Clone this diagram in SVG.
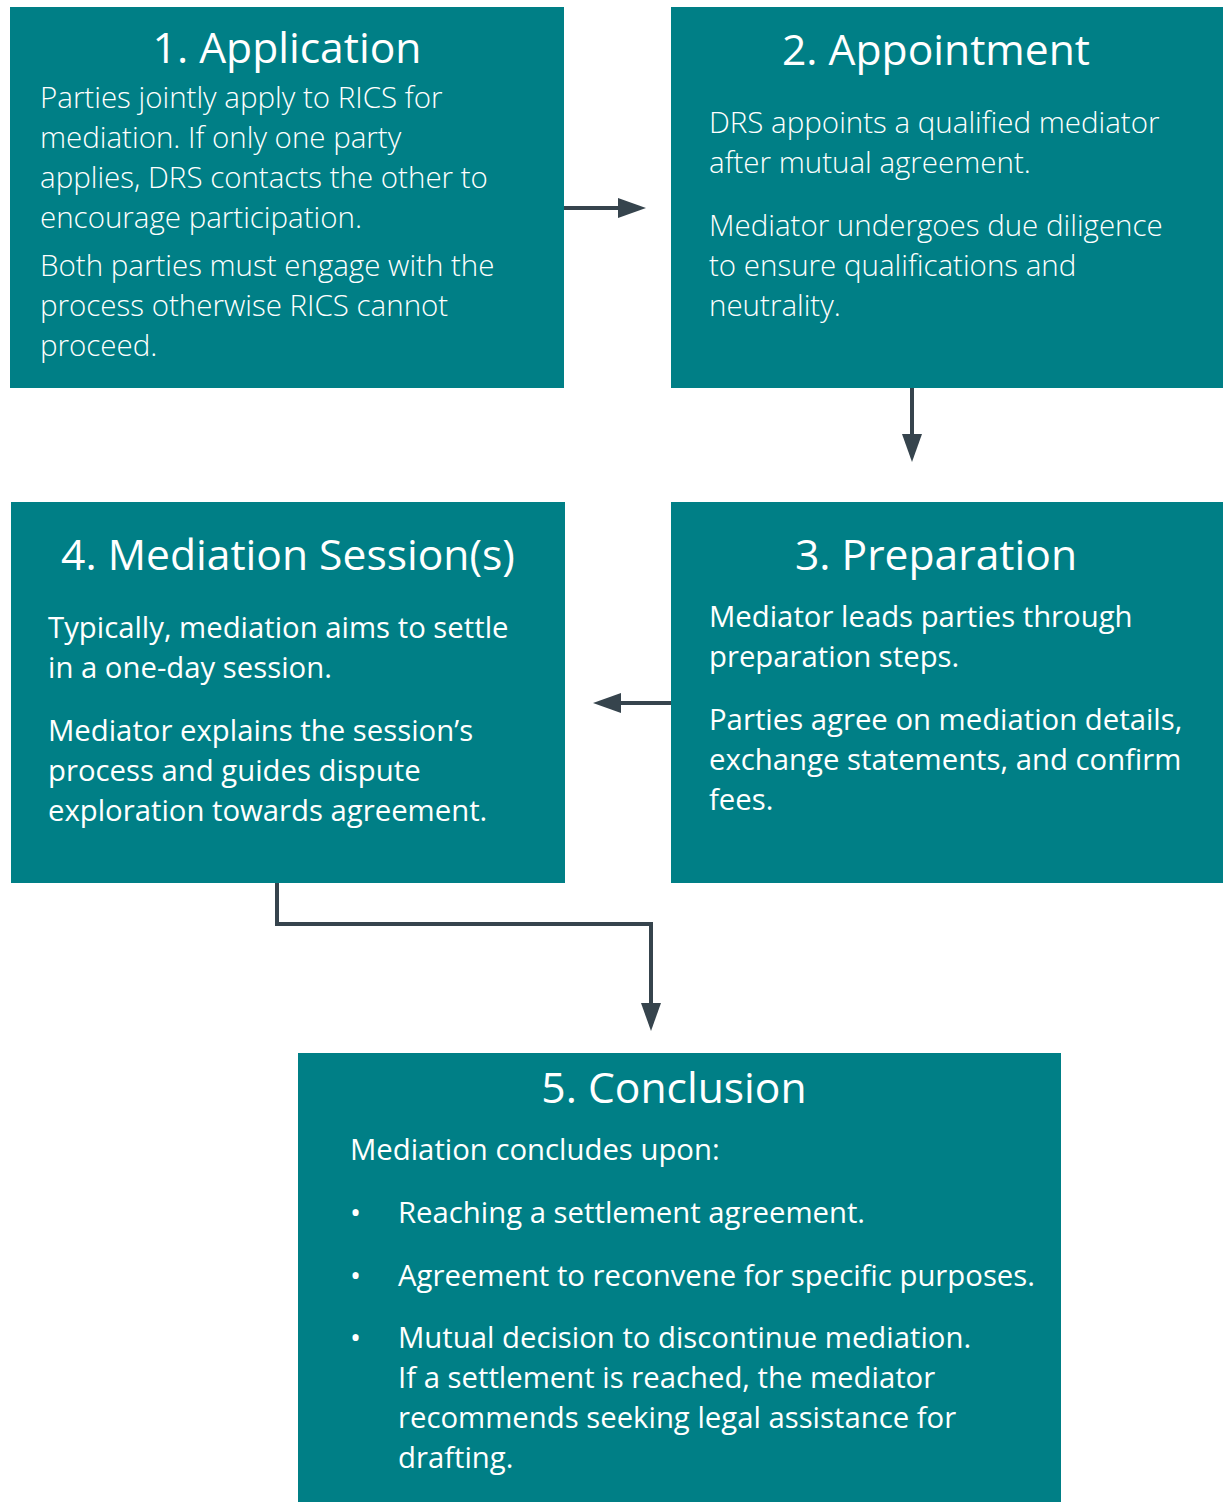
<svg xmlns="http://www.w3.org/2000/svg" width="1223" height="1502" viewBox="0 0 1223 1502">
<style>
.box{fill:#007f86;}
.title{font-family:"Open Sans","Noto Sans",sans-serif;font-size:42.6px;fill:#ffffff;text-anchor:middle;}
.body{font-family:"Open Sans","Noto Sans",sans-serif;font-size:29.3px;fill:#ffffff;}
.light{font-weight:300;font-size:29.5px;}
.conn{fill:none;stroke:#36444d;stroke-width:4;}
</style>
<defs>
<marker id="ah" viewBox="0 0 28 20" refX="0" refY="10" markerWidth="28" markerHeight="20" markerUnits="userSpaceOnUse" orient="auto">
<path d="M0,0 L28,10 L0,20 Z" fill="#36444d"/>
</marker>
</defs>
<rect width="1223" height="1502" fill="#ffffff"/>
<g id="connectors">
<path class="conn" d="M564,208 H618" marker-end="url(#ah)"/>
<path class="conn" d="M912,388 V434" marker-end="url(#ah)"/>
<path class="conn" d="M671,703 H621" marker-end="url(#ah)"/>
<path class="conn" d="M277,883 V924 H651 V1003" marker-end="url(#ah)"/>
</g>
<g id="node1">
<rect class="box" x="10" y="7" width="554" height="381"/>
<text class="title" x="287" y="63">1. Application</text>
<text class="body light"><tspan x="40" y="108">Parties jointly apply to RICS for</tspan><tspan x="40" y="148">mediation. If only one party</tspan><tspan x="40" y="188">applies, DRS contacts the other to</tspan><tspan x="40" y="228">encourage participation.</tspan><tspan x="40" y="276">Both parties must engage with the</tspan><tspan x="40" y="316">process otherwise RICS cannot</tspan><tspan x="40" y="356">proceed.</tspan></text>
</g>
<g id="node2">
<rect class="box" x="671" y="7" width="552" height="381"/>
<text class="title" x="936" y="65">2. Appointment</text>
<text class="body light"><tspan x="709" y="133">DRS appoints a qualified mediator</tspan><tspan x="709" y="173">after mutual agreement.</tspan><tspan x="709" y="236">Mediator undergoes due diligence</tspan><tspan x="709" y="276">to ensure qualifications and</tspan><tspan x="709" y="316">neutrality.</tspan></text>
</g>
<g id="node3">
<rect class="box" x="671" y="502" width="552" height="381"/>
<text class="title" x="936" y="570">3. Preparation</text>
<text class="body"><tspan x="709" y="627">Mediator leads parties through</tspan><tspan x="709" y="667">preparation steps.</tspan><tspan x="709" y="730">Parties agree on mediation details,</tspan><tspan x="709" y="770">exchange statements, and confirm</tspan><tspan x="709" y="810">fees.</tspan></text>
</g>
<g id="node4">
<rect class="box" x="11" y="502" width="554" height="381"/>
<text class="title" x="288" y="570">4. Mediation Session(s)</text>
<text class="body"><tspan x="48" y="638">Typically, mediation aims to settle</tspan><tspan x="48" y="678">in a one-day session.</tspan><tspan x="48" y="741">Mediator explains the session’s</tspan><tspan x="48" y="781">process and guides dispute</tspan><tspan x="48" y="821">exploration towards agreement.</tspan></text>
</g>
<g id="node5">
<rect class="box" x="298" y="1053" width="763" height="449"/>
<text class="title" x="674" y="1103">5. Conclusion</text>
<text class="body"><tspan x="350" y="1160">Mediation concludes upon:</tspan><tspan x="350" y="1223">•</tspan><tspan x="398" y="1223">Reaching a settlement agreement.</tspan><tspan x="350" y="1286">•</tspan><tspan x="398" y="1286">Agreement to reconvene for specific purposes.</tspan><tspan x="350" y="1348">•</tspan><tspan x="398" y="1348">Mutual decision to discontinue mediation.</tspan><tspan x="398" y="1388">If a settlement is reached, the mediator</tspan><tspan x="398" y="1428">recommends seeking legal assistance for</tspan><tspan x="398" y="1468">drafting.</tspan></text>
</g>
</svg>
